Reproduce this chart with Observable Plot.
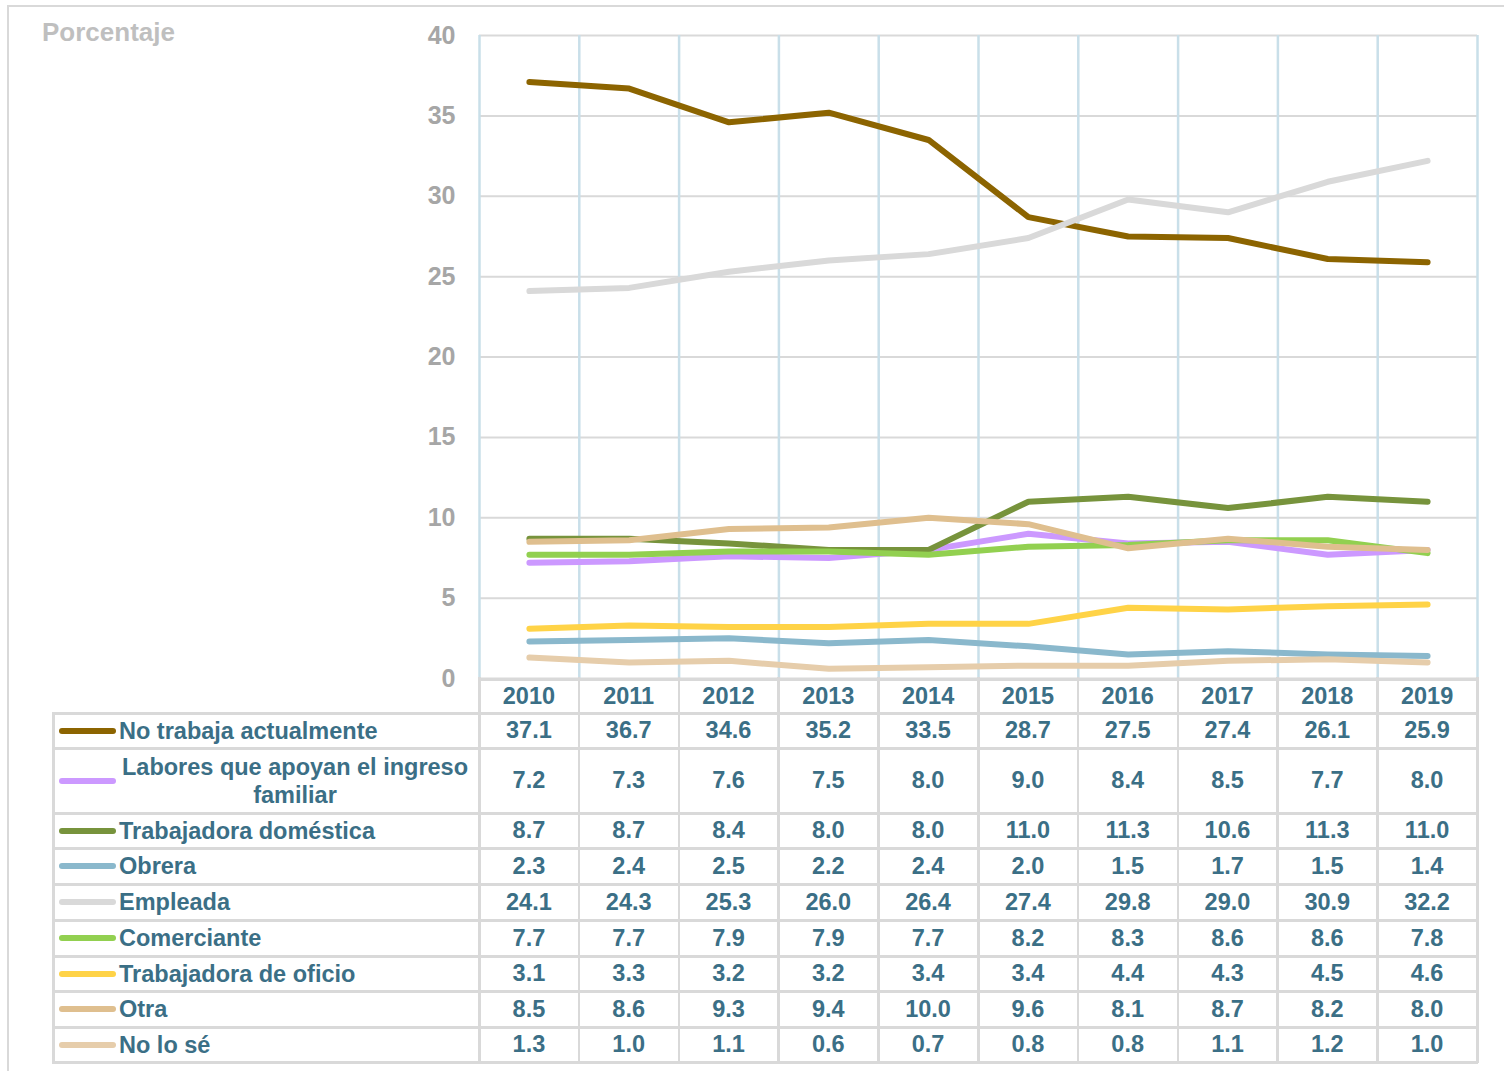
<!DOCTYPE html>
<html><head><meta charset="utf-8">
<script src="https://cdn.jsdelivr.net/npm/d3@7"></script>
<script src="https://cdn.jsdelivr.net/npm/@observablehq/plot@0.6"></script>
<style>
body{margin:0;background:#fff;font-family:"Liberation Sans",Arial,sans-serif;}
#wrap{position:relative;width:1504px;height:1071px;overflow:hidden;background:#fff}
#frame{position:absolute;left:7px;top:5px;width:1520px;height:1100px;border:2px solid #d9d9d9;box-sizing:border-box}
#chart{position:absolute;left:0;top:0}
.title{position:absolute;left:42px;top:17px;font-size:26px;font-weight:bold;color:#bfbfbf}
.hl{position:absolute;background:#d9d9d9}
.cell{position:absolute;display:flex;align-items:center;justify-content:center;font-size:23.5px;font-weight:bold;color:#3b6f86;white-space:nowrap}
.lab{position:absolute;display:flex;align-items:center;font-size:23.5px;font-weight:bold;color:#3b6f86;line-height:28px;white-space:nowrap}
.sw{position:absolute;height:6px;border-radius:3px}
</style></head>
<body><div id="wrap"><div id="frame"></div><div id="chart"></div><div class="title">Porcentaje</div></div>
<script>
const years = [2010,2011,2012,2013,2014,2015,2016,2017,2018,2019];
const seriesNames = ["No trabaja actualmente","Labores que apoyan el ingreso familiar","Trabajadora doméstica","Obrera","Empleada","Comerciante","Trabajadora de oficio","Otra","No lo sé"];
const seriesColors = ["#8c6400","#cc99ff","#77933c","#8ab8cc","#d9d9d9","#92d050","#ffd347","#dfbf8f","#e6cdab"];
const noTrabaja   = [37.1,36.7,34.6,35.2,33.5,28.7,27.5,27.4,26.1,25.9];
const labores     = [7.2,7.3,7.6,7.5,8.0,9.0,8.4,8.5,7.7,8.0];
const domestica   = [8.7,8.7,8.4,8.0,8.0,11.0,11.3,10.6,11.3,11.0];
const obrera      = [2.3,2.4,2.5,2.2,2.4,2.0,1.5,1.7,1.5,1.4];
const empleada    = [24.1,24.3,25.3,26.0,26.4,27.4,29.8,29.0,30.9,32.2];
const comerciante = [7.7,7.7,7.9,7.9,7.7,8.2,8.3,8.6,8.6,7.8];
const oficio      = [3.1,3.3,3.2,3.2,3.4,3.4,4.4,4.3,4.5,4.6];
const otra        = [8.5,8.6,9.3,9.4,10.0,9.6,8.1,8.7,8.2,8.0];
const noLoSe      = [1.3,1.0,1.1,0.6,0.7,0.8,0.8,1.1,1.2,1.0];
const yTicks = [0,5,10,15,20,25,30,35,40];

const seriesValues = [noTrabaja,labores,domestica,obrera,empleada,comerciante,oficio,otra,noLoSe];
const data = [];
seriesNames.forEach((s,i)=>years.forEach((y,j)=>data.push({serie:s, year:y, value:seriesValues[i][j]})));
const bounds = d3.range(years[0]-0.5, years[years.length-1]+1, 1);

const W=1504, H=1071, L=479, R=27, T=35, B=H-678;
const plot = Plot.plot({
  width:W, height:H, marginLeft:L, marginRight:R, marginTop:T, marginBottom:B,
  style:{background:"transparent", fontFamily:"'Liberation Sans',Arial,sans-serif"},
  x:{domain:[bounds[0], bounds[bounds.length-1]], axis:null},
  y:{domain:[0,40], ticks:yTicks, label:null},
  color:{domain:seriesNames, range:seriesColors},
  marks:[
    Plot.ruleY(yTicks,{stroke:"#d9d9d9",strokeWidth:2}),
    Plot.ruleX(bounds,{y1:0,y2:40,stroke:"#c9dfe9",strokeWidth:2.5}),
    Plot.axisY({ticks:yTicks, tickSize:0, tickPadding:24, fontSize:25, fontWeight:"bold", fill:"#a6a6a6", label:null}),
    Plot.line(data,{x:"year", y:"value", z:"serie", stroke:"serie", strokeWidth:6, strokeLinecap:"round", strokeLinejoin:"round"})
  ]
});
document.getElementById("chart").appendChild(plot);

// Data table below, aligned with the plot's x scale
const xs = plot.scale("x");
const wrap = document.getElementById("wrap");
const px = v => xs.apply(v);
const left = 53, colL = px(bounds[0]), right = px(bounds[bounds.length-1]);
const headerTop = 678;
const rowEdges = [713,748,813,848,884,920,956,991,1027,1062];
function hline(x1,x2,y){const d=document.createElement("div");d.className="hl";d.style.left=(x1-1)+"px";d.style.top=(y-1)+"px";d.style.width=(x2-x1+2)+"px";d.style.height="2.5px";wrap.appendChild(d);}
function vline(x,y1,y2){const d=document.createElement("div");d.className="hl";d.style.left=(x-1)+"px";d.style.top=(y1-1)+"px";d.style.width="2.5px";d.style.height=(y2-y1+2)+"px";wrap.appendChild(d);}
function cell(text,x1,x2,y1,y2){const d=document.createElement("div");d.className="cell";d.style.left=x1+"px";d.style.width=(x2-x1)+"px";d.style.top=y1+"px";d.style.height=(y2-y1)+"px";d.textContent=text;wrap.appendChild(d);}
hline(colL,right,headerTop+1);
bounds.forEach(b=>vline(px(b),headerTop,rowEdges[rowEdges.length-1]));
years.forEach(y=>cell(String(y),px(y-0.5),px(y+0.5),headerTop+1,rowEdges[0]));
rowEdges.forEach(y=>hline(left,right,y));
vline(left,rowEdges[0],rowEdges[rowEdges.length-1]);
seriesNames.forEach((s,i)=>{
  const y1=rowEdges[i], y2=rowEdges[i+1];
  const sw=document.createElement("div");sw.className="sw";sw.style.background=seriesColors[i];
  sw.style.left="59px";sw.style.width="57px";sw.style.top=((y1+y2)/2-3)+"px";wrap.appendChild(sw);
  const lb=document.createElement("div");lb.className="lab";lb.style.left="119px";lb.style.top=y1+"px";lb.style.height=(y2-y1)+"px";
  if(s.startsWith("Labores")){lb.style.width="352px";lb.style.textAlign="center";lb.style.justifyContent="center";lb.innerHTML="Labores que apoyan el ingreso<br>familiar";}
  else lb.textContent=s;
  wrap.appendChild(lb);
  years.forEach((yr,j)=>cell(seriesValues[i][j].toFixed(1),px(yr-0.5),px(yr+0.5),y1,y2));
});
</script></body></html>
